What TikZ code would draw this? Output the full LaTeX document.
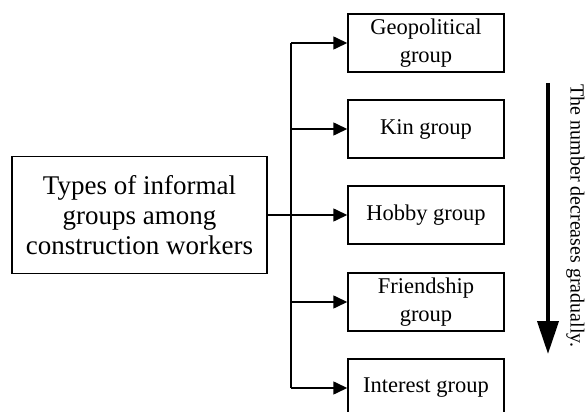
\documentclass[tikz,border=0pt]{standalone}
\usepackage{fontspec}
\setmainfont{Liberation Serif}
\usetikzlibrary{arrows.meta}
\begin{document}
\begin{tikzpicture}[x=1pt,y=-1pt,
  framebox/.style={draw,line width=1.5pt,inner sep=0pt,align=center},
  mainbox/.style={framebox,minimum width=255pt,minimum height=117pt,
    font=\fontsize{27}{30}\selectfont},
  groupbox/.style={framebox,minimum width=156pt,minimum height=58pt,
    font=\fontsize{22.5}{28}\selectfont},
  link/.style={line width=1.6pt},
  feed/.style={link,-{Triangle[length=14pt,width=13pt]}},
  trend/.style={line width=4pt,-{Triangle[length=33pt,width=21pt]}}]
  \useasboundingbox (0,0) rectangle (587,412);
  \begin{scope}
  \clip (0,0) rectangle (587,412);
  % the category being split up
  \node[mainbox] (types) at (139.5,215)
    {Types of informal\\groups among\\construction workers};
  % the five kinds of group
  \node[groupbox] (geo) at (426,43) {Geopolitical\\group};
  \node[groupbox] (kin) at (426,129) {Kin group};
  \node[groupbox] (hobby) at (426,215) {Hobby group};
  \node[groupbox] (friend) at (426,302) {Friendship\\group};
  \node[groupbox] (interest) at (426,388) {Interest group};
  % branching connector
  \coordinate (top) at (291,43);
  \coordinate (bottom) at (291,388);
  \draw[link] (top) -- (bottom);
  \draw[feed] (types.east) -- (hobby.west);
  \draw[feed] (top) -- (geo.west);
  \draw[feed] (top |- kin.west) -- (kin.west);
  \draw[feed] (top |- friend.west) -- (friend.west);
  \draw[feed] (bottom) -- (interest.west);
  % decreasing-number indicator
  \coordinate (trendstart) at (548,83);
  \coordinate (trendend) at (548,354);
  \draw[trend] (trendstart) -- (trendend);
  \node[rotate=-90,font=\fontsize{20}{24}\selectfont,inner sep=0pt] (trendlabel)
    at (575.5,216) {The number decreases gradually.};
  \end{scope}
\end{tikzpicture}
\end{document}
